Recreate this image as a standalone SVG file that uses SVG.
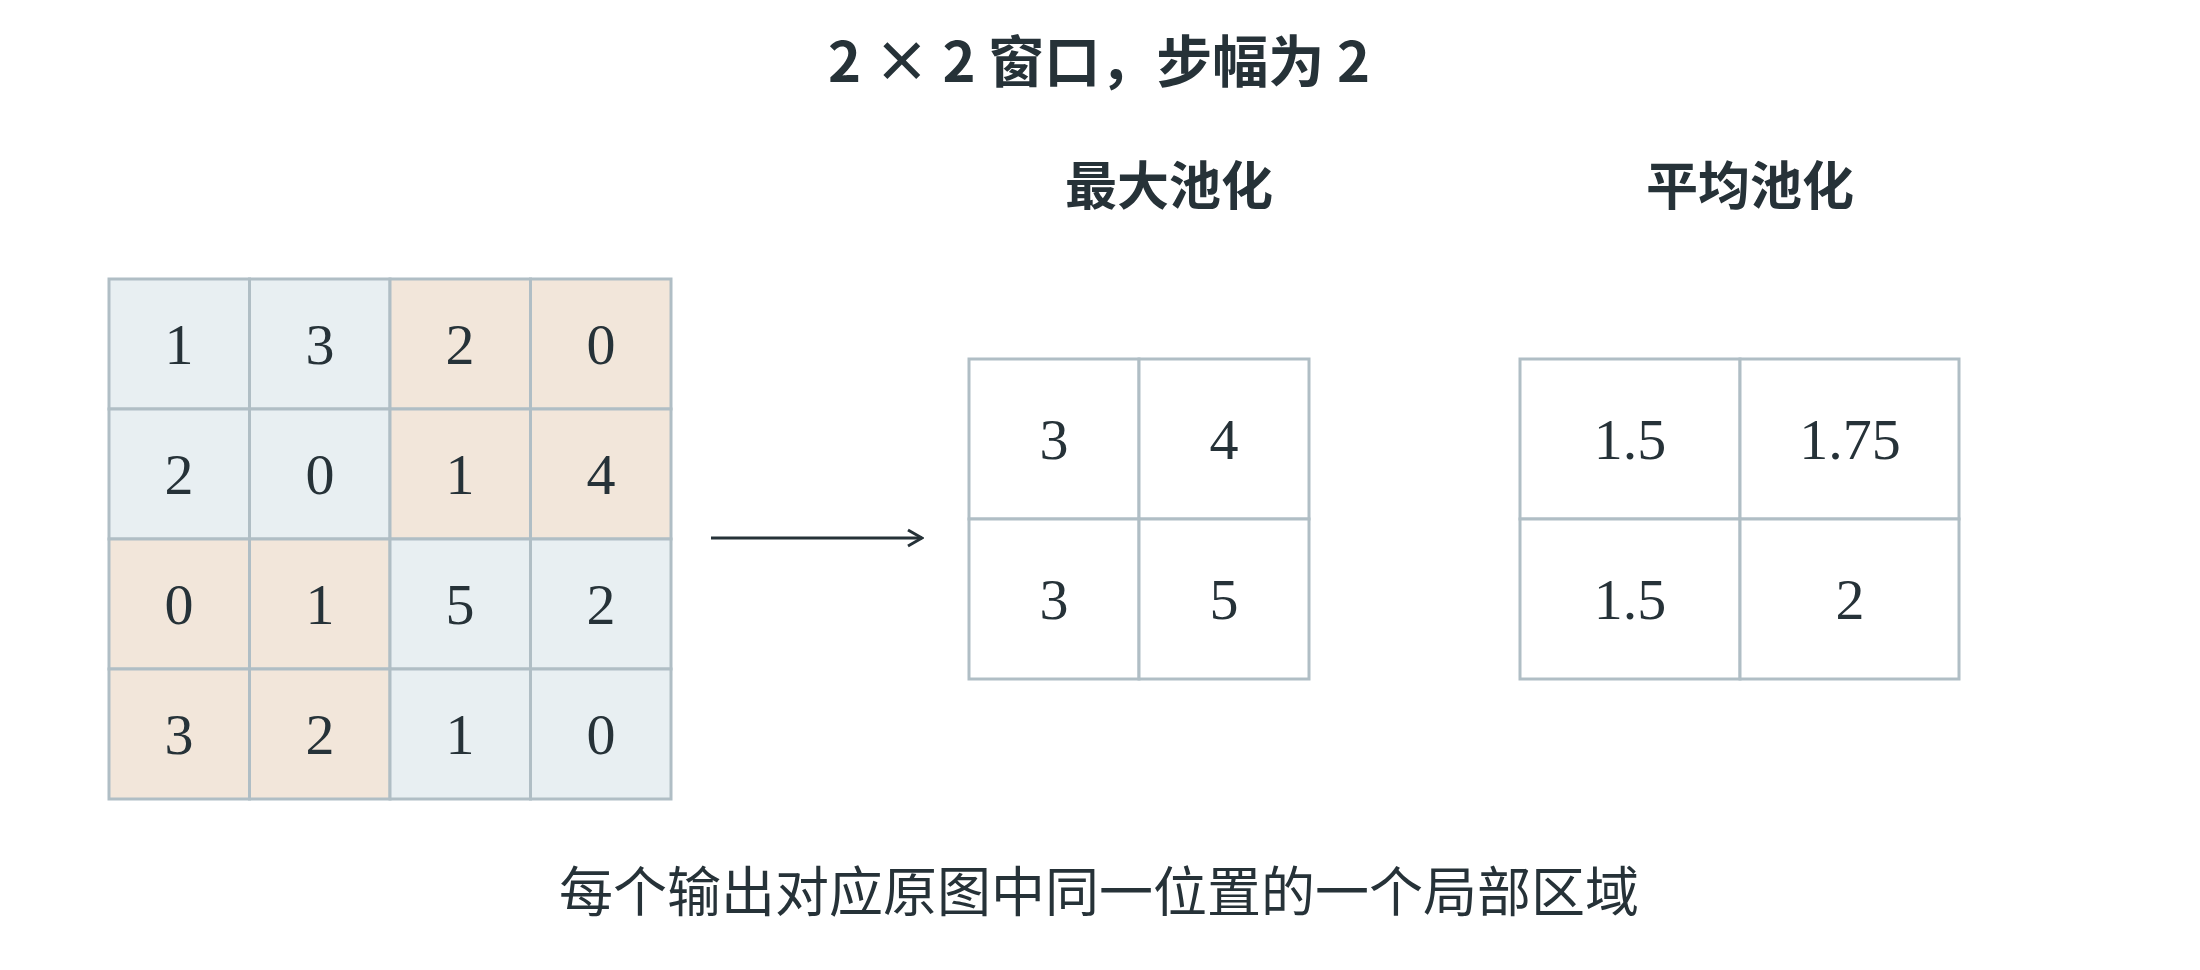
<svg xmlns="http://www.w3.org/2000/svg" width="2200" height="970" viewBox="0 0 2200 970">
<defs>
<style>
.b{fill:#e8eff2;stroke:#b0bec5;stroke-width:3}
.t{fill:#f2e6da;stroke:#b0bec5;stroke-width:3}
.w{fill:#fff;stroke:#b0bec5;stroke-width:3}
.n{font-family:"Liberation Serif","DejaVu Serif",serif;font-size:58px;fill:#263238;text-anchor:middle;dominant-baseline:central}
.h{font-family:"Noto Sans CJK SC",sans-serif;font-weight:bold;fill:#263238;text-anchor:middle}
</style>
<marker id="ar" viewBox="0 0 20 20" refX="18" refY="10" markerWidth="20" markerHeight="20" markerUnits="userSpaceOnUse" orient="auto"><path d="M4,2 L18,10 L4,18" fill="none" stroke="#263238" stroke-width="3"/></marker>
</defs>
<rect width="2200" height="970" fill="#fff"/>
<text class="h" x="1099" y="82" font-size="56">2 × 2 窗口，步幅为 2</text>
<text class="h" x="1169" y="205" font-size="52">最大池化</text>
<text class="h" x="1750" y="205" font-size="52">平均池化</text>
<g id="input">
<rect class="b" x="109" y="279" width="140.5" height="130"/><rect class="b" x="249.5" y="279" width="140.5" height="130"/><rect class="t" x="390" y="279" width="140.5" height="130"/><rect class="t" x="530.5" y="279" width="140.5" height="130"/>
<rect class="b" x="109" y="409" width="140.5" height="130"/><rect class="b" x="249.5" y="409" width="140.5" height="130"/><rect class="t" x="390" y="409" width="140.5" height="130"/><rect class="t" x="530.5" y="409" width="140.5" height="130"/>
<rect class="t" x="109" y="539" width="140.5" height="130"/><rect class="t" x="249.5" y="539" width="140.5" height="130"/><rect class="b" x="390" y="539" width="140.5" height="130"/><rect class="b" x="530.5" y="539" width="140.5" height="130"/>
<rect class="t" x="109" y="669" width="140.5" height="130"/><rect class="t" x="249.5" y="669" width="140.5" height="130"/><rect class="b" x="390" y="669" width="140.5" height="130"/><rect class="b" x="530.5" y="669" width="140.5" height="130"/>
<text class="n" x="179" y="344">1</text><text class="n" x="320" y="344">3</text><text class="n" x="460" y="344">2</text><text class="n" x="601" y="344">0</text>
<text class="n" x="179" y="474">2</text><text class="n" x="320" y="474">0</text><text class="n" x="460" y="474">1</text><text class="n" x="601" y="474">4</text>
<text class="n" x="179" y="604">0</text><text class="n" x="320" y="604">1</text><text class="n" x="460" y="604">5</text><text class="n" x="601" y="604">2</text>
<text class="n" x="179" y="734">3</text><text class="n" x="320" y="734">2</text><text class="n" x="460" y="734">1</text><text class="n" x="601" y="734">0</text>
</g>
<g id="connectors"><line x1="711" y1="538" x2="922" y2="538" stroke="#263238" stroke-width="3" marker-end="url(#ar)"/></g>
<g id="maxpool">
<rect class="w" x="969" y="359" width="170" height="160"/><rect class="w" x="1139" y="359" width="170" height="160"/>
<rect class="w" x="969" y="519" width="170" height="160"/><rect class="w" x="1139" y="519" width="170" height="160"/>
<text class="n" x="1054" y="439">3</text><text class="n" x="1224" y="439">4</text>
<text class="n" x="1054" y="599">3</text><text class="n" x="1224" y="599">5</text>
</g>
<g id="avgpool">
<rect class="w" x="1520" y="359" width="220" height="160"/><rect class="w" x="1740" y="359" width="219" height="160"/>
<rect class="w" x="1520" y="519" width="220" height="160"/><rect class="w" x="1740" y="519" width="219" height="160"/>
<text class="n" x="1630" y="439">1.5</text><text class="n" x="1850" y="439">1.75</text>
<text class="n" x="1630" y="599">1.5</text><text class="n" x="1850" y="599">2</text>
</g>
<text x="1099" y="912" font-family="Noto Sans CJK SC,sans-serif" font-size="54" fill="#263238" text-anchor="middle">每个输出对应原图中同一位置的一个局部区域</text>
</svg>
